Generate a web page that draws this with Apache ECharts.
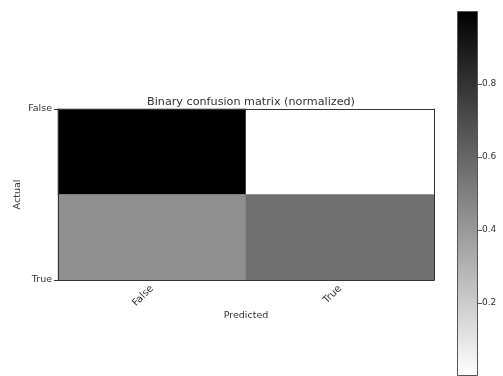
<!DOCTYPE html>
<html>
<head>
<meta charset="utf-8">
<script src="https://cdn.jsdelivr.net/npm/echarts@6/dist/echarts.min.js"></script>
<style>html,body{margin:0;padding:0;background:#fff}#c{width:503px;height:376px}</style>
</head>
<body>
<div id="c"></div>
<script>
const predictedCategories = ['False', 'True'];
const actualCategories = ['False', 'True'];
const rowFalse = [1.0, 0.0];
const rowTrue = [0.44, 0.56];
const colorbarTicks = [0.2, 0.4, 0.6, 0.8];
const colorbarValue = [1];

const matrix = [rowFalse, rowTrue];
const heatData = [];
matrix.forEach((row, yi) => row.forEach((v, xi) => heatData.push([xi, yi, v])));

const FONT = 'DejaVu Sans';
const TXT = '#333';
const chart = echarts.init(document.getElementById('c'), null, {renderer: 'canvas'});
chart.setOption({
  animation: false,
  textStyle: {fontFamily: FONT},
  title: {
    text: 'Binary confusion matrix (normalized)',
    left: 246, top: 92, textAlign: 'center',
    textStyle: {fontFamily: FONT, fontSize: 11.2, fontWeight: 'normal', color: TXT}
  },
  grid: [
    {left: 58, top: 109, width: 376, height: 171},
    {left: 457, top: 11, width: 21, height: 368}
  ],
  visualMap: {
    show: false, min: 0, max: 1, seriesIndex: 0, dimension: 2,
    inRange: {color: ['#ffffff', '#000000']}
  },
  xAxis: [
    {
      type: 'category', data: predictedCategories, gridIndex: 0, position: 'bottom', z: 10,
      axisLine: {lineStyle: {color: '#333', width: 1}},
      axisTick: {alignWithLabel: true, length: 4, lineStyle: {color: '#333'}},
      axisLabel: {rotate: 45, margin: 7, fontSize: 10, color: TXT, fontFamily: FONT},
      splitLine: {show: false},
      name: 'Predicted', nameLocation: 'middle', nameGap: 31, nameMoveOverlap: false,
      nameTextStyle: {fontSize: 9.5, color: TXT, fontFamily: FONT}
    },
    {
      type: 'category', data: predictedCategories, gridIndex: 0, position: 'top', z: 10,
      axisLine: {lineStyle: {color: '#333', width: 1}},
      axisTick: {show: false}, axisLabel: {show: false}, splitLine: {show: false}
    },
    {
      type: 'category', data: ['cb'], gridIndex: 1, show: false
    }
  ],
  yAxis: [
    {
      type: 'category', data: actualCategories, gridIndex: 0, inverse: true, show: false
    },
    {
      type: 'value', min: 0, max: 1, interval: 1, inverse: true, gridIndex: 0, position: 'left', z: 10,
      axisLine: {show: true, lineStyle: {color: '#333', width: 1}},
      axisTick: {show: true, length: 4, lineStyle: {color: '#333'}},
      axisLabel: {margin: 6, fontSize: 9.5, color: TXT, fontFamily: FONT,
        formatter: v => actualCategories[Math.round(v)]},
      splitLine: {show: false},
      name: 'Actual', nameLocation: 'middle', nameGap: 35, nameRotate: 90, nameMoveOverlap: false,
      nameTextStyle: {fontSize: 9.5, color: TXT, fontFamily: FONT}
    },
    {
      type: 'value', min: 0, max: 1, interval: 1, gridIndex: 0, position: 'right', z: 10,
      axisLine: {show: true, lineStyle: {color: '#333', width: 1}},
      axisTick: {show: false}, axisLabel: {show: false}, splitLine: {show: false}
    },
    {
      type: 'value', min: 0, max: 1, gridIndex: 1, position: 'right', z: 10,
      axisLine: {show: false},
      axisTick: {show: true, length: 4, lineStyle: {color: '#555'}, customValues: colorbarTicks},
      axisLabel: {margin: 4, fontSize: 9, color: TXT, fontFamily: FONT, customValues: colorbarTicks,
        formatter: v => v.toFixed(1)},
      splitLine: {show: false}
    }
  ],
  series: [
    {
      type: 'heatmap', xAxisIndex: 0, yAxisIndex: 0, data: heatData,
      itemStyle: {borderWidth: 0}, emphasis: {disabled: true}
    },
    {
      type: 'bar', xAxisIndex: 2, yAxisIndex: 3, data: colorbarValue, barWidth: '100%',
      itemStyle: {
        color: {type: 'linear', x: 0, y: 0, x2: 0, y2: 1,
          colorStops: [{offset: 0, color: '#000000'}, {offset: 1, color: '#ffffff'}]},
        borderColor: '#555', borderWidth: 1
      },
      emphasis: {disabled: true}
    }
  ]
});
</script>
</body>
</html>
